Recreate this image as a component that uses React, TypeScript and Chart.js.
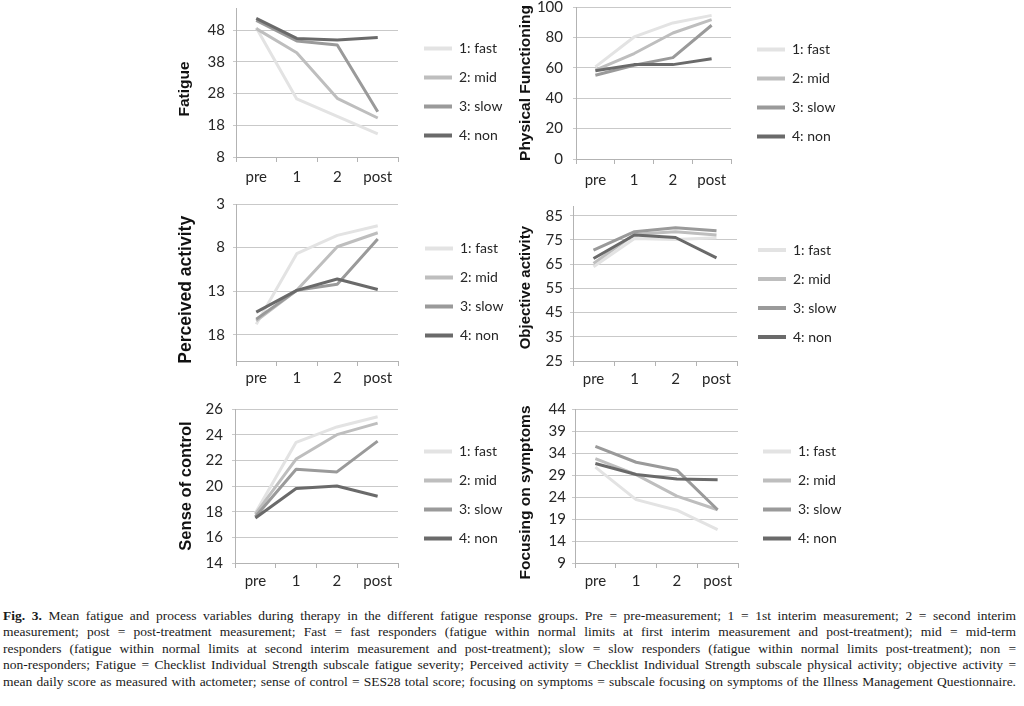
import React, { useEffect, useRef } from "react";
import { Chart, registerables } from "chart.js";

Chart.register(...registerables);

// ---------- data ----------
const categories = ["pre", "1", "2", "post"];
const groups = ["1: fast", "2: mid", "3: slow", "4: non"];

const fatigueFast = [48.8, 26.3, 20.8, 15.3];
const fatigueMid = [48.5, 40.9, 26.5, 20.3];
const fatigueSlow = [51.1, 44.6, 43.3, 22.3];
const fatigueNon = [51.7, 45.4, 44.9, 45.7];
const fatigueTicks = [8, 18, 28, 38, 48];

const physFast = [60.6, 80.3, 89.5, 94.5];
const physMid = [58.4, 69.4, 82.9, 91.7];
const physSlow = [55.1, 61.7, 66.7, 88.0];
const physNon = [58.0, 62.1, 62.1, 66.0];
const physTicks = [0, 20, 40, 60, 80, 100];

const percFast = [16.8, 8.7, 6.6, 5.5];
const percMid = [16.4, 12.9, 7.9, 6.3];
const percSlow = [16.2, 12.9, 12.2, 7.0];
const percNon = [15.4, 12.9, 11.6, 12.8];
const percTicks = [3, 8, 13, 18];

const objFast = [63.9, 75.6, 75.2, 75.9];
const objMid = [65.3, 77.3, 78.4, 77.0];
const objSlow = [70.8, 78.4, 80.0, 78.8];
const objNon = [67.3, 77.0, 76.0, 67.6];
const objTicks = [25, 35, 45, 55, 65, 75, 85];

const senseFast = [17.9, 23.4, 24.6, 25.4];
const senseMid = [17.8, 22.1, 24.0, 24.9];
const senseSlow = [17.6, 21.3, 21.1, 23.5];
const senseNon = [17.5, 19.8, 20.0, 19.2];
const senseTicks = [14, 16, 18, 20, 22, 24, 26];

const focusFast = [30.8, 23.4, 21.0, 16.6];
const focusMid = [32.7, 29.1, 24.2, 21.1];
const focusSlow = [35.5, 31.9, 30.1, 21.1];
const focusNon = [31.6, 29.1, 28.1, 27.9];
const focusTicks = [9, 14, 19, 24, 29, 34, 39, 44];

// ---------- styles ----------
const COLORS = ["#e3e3e3", "#bebebe", "#9a9a9a", "#6a6a6a"];
const GRID = "#c9c9c9";
const AXIS = "#b3b3b3";
const TEXT = "#262626";
const SANS = "Lato, 'Liberation Sans', sans-serif";
const TITLE_FONT = "'Liberation Sans', Arial, sans-serif";
const LEGEND_SIZE = 14;
const TICK_SIZE = 15;
const LEGEND_PAD = 29 - LEGEND_SIZE;
const BOX_W = 28;

type PanelDef = {
  title: string;
  titleSize: number;
  titleShift: number; // trailing spaces to nudge the rotated title downward
  series: number[][];
  ticks: number[];
  min: number;
  max: number;
  reverse?: boolean;
  L: number; R: number; T: number; B: number;
  M: number; X0: number; Xt: number;
  xpad: number; ypad: number;
};

const panels: PanelDef[] = [
  { title: "Fatigue", titleSize: 15.5, titleShift: 3, series: [fatigueFast, fatigueMid, fatigueSlow, fatigueNon], ticks: fatigueTicks, min: 8, max: 55,
    L: 236, R: 398, T: 8, B: 157, M: 92, X0: 424, Xt: 185, xpad: 6, ypad: 8 },
  { title: "Physical Functioning", titleSize: 15.5, titleShift: 0, series: [physFast, physMid, physSlow, physNon], ticks: physTicks, min: 0, max: 100,
    L: 576, R: 731, T: 7, B: 159, M: 93, X0: 757, Xt: 526, xpad: 7, ypad: 10 },
  { title: "Perceived activity", titleSize: 17.5, titleShift: 3, series: [percFast, percMid, percSlow, percNon], ticks: percTicks, min: 3, max: 21, reverse: true,
    L: 236, R: 398, T: 204, B: 361, M: 292, X0: 425, Xt: 186, xpad: 3, ypad: 8 },
  { title: "Objective activity", titleSize: 15, titleShift: 2, series: [objFast, objMid, objSlow, objNon], ticks: objTicks, min: 25, max: 89,
    L: 573, R: 737, T: 206, B: 361, M: 293.5, X0: 758, Xt: 526, xpad: 4, ypad: 7 },
  { title: "Sense of control", titleSize: 16.5, titleShift: 0, series: [senseFast, senseMid, senseSlow, senseNon], ticks: senseTicks, min: 14, max: 26,
    L: 235, R: 398, T: 409, B: 563, M: 495, X0: 424, Xt: 186, xpad: 4, ypad: 9 },
  { title: "Focusing on symptoms", titleSize: 15.5, titleShift: 3, series: [focusFast, focusMid, focusSlow, focusNon], ticks: focusTicks, min: 9, max: 44,
    L: 575, R: 738, T: 409, B: 563, M: 495, X0: 763, Xt: 526, xpad: 4, ypad: 6 },
];

function Panel({ p }: { p: PanelDef }) {
  const ref = useRef<HTMLCanvasElement | null>(null);

  const titleLH = p.titleSize * 1.2;
  const scaleLeft = p.Xt - titleLH / 2;
  const CL = Math.round(scaleLeft);
  const pl = scaleLeft - CL;
  const yw = p.L - scaleLeft;
  const dw = p.X0 - LEGEND_PAD - p.R;
  const CW = Math.ceil(p.R + dw + 125 - CL);
  const pt = 20;
  const CT = Math.floor(p.T - pt);
  const ptAdj = p.T - CT;
  const xh = 34;
  const pb = 6;
  const CH = Math.ceil(p.B + xh + pb - CT);
  const pbAdj = CT + CH - (p.B + xh);
  // legend offset from its top (empty legend title used as a spacer)
  const legendTitleH = p.M - 43.5 - p.T - LEGEND_PAD - LEGEND_SIZE / 2;

  useEffect(() => {
    if (!ref.current) return;
    const mctx = document.createElement("canvas").getContext("2d")!;
    mctx.font = `${LEGEND_SIZE}px ${SANS}`;
    const maxText = Math.max(...groups.map((g) => mctx.measureText(g).width));
    const legendW = LEGEND_PAD + BOX_W + LEGEND_SIZE / 2 + maxText + 10;
    const prAdj = CL + CW - (p.R + dw + legendW);

    const chart = new Chart(ref.current, {
      type: "line",
      data: {
        labels: categories,
        datasets: groups.map((g, i) => ({
          label: g,
          data: p.series[i],
          borderColor: COLORS[i],
          backgroundColor: COLORS[i],
          borderWidth: 3,
          pointRadius: 0,
          tension: 0,
          borderJoinStyle: "round" as const,
          yAxisID: "y",
          order: 4 - i,
        })),
      },
      options: {
        animation: false,
        responsive: false,
        maintainAspectRatio: false,
        events: [],
        layout: { padding: { left: pl, right: prAdj, top: ptAdj, bottom: pbAdj } },
        scales: {
          x: {
            type: "category",
            offset: true,
            grid: { display: true, drawOnChartArea: false, drawTicks: true, tickLength: 5, offset: true, color: AXIS },
            border: { display: true, color: AXIS, width: 1 },
            ticks: { color: TEXT, font: { family: SANS, size: TICK_SIZE }, padding: p.xpad, maxRotation: 0, autoSkip: false },
            afterFit: (s: any) => { s.height = xh; },
          },
          y: {
            type: "linear",
            position: "left",
            min: p.min,
            max: p.max,
            reverse: !!p.reverse,
            afterBuildTicks: (s: any) => { s.ticks = p.ticks.map((v) => ({ value: v })); },
            grid: { color: GRID, lineWidth: 1, drawTicks: true, tickLength: 3 },
            border: { display: true, color: AXIS, width: 1 },
            ticks: { color: TEXT, font: { family: SANS, size: TICK_SIZE }, padding: p.ypad },
            title: {
              display: true,
              text: p.title + " ".repeat(p.titleShift),
              color: "#111111",
              padding: 0,
              font: { family: TITLE_FONT, size: p.titleSize, weight: "bold" },
            },
            afterFit: (s: any) => { s.width = yw; },
          },
          pad: {
            type: "linear",
            position: "right",
            display: true,
            grid: { display: false, drawTicks: false },
            border: { display: false },
            ticks: { display: false },
            afterFit: (s: any) => { s.width = dw; },
          },
        },
        plugins: {
          tooltip: { enabled: false },
          title: { display: false },
          legend: {
            display: true,
            position: "right",
            align: "start",
            maxWidth: 300,
            title: { display: true, text: "", padding: { top: legendTitleH - 1.2, bottom: 0 }, font: { size: 1 } },
            labels: {
              boxWidth: BOX_W,
              boxHeight: 4,
              padding: LEGEND_PAD,
              color: TEXT,
              font: { family: SANS, size: LEGEND_SIZE },
              sort: (a: any, b: any) => a.datasetIndex - b.datasetIndex,
              generateLabels: (c: any) =>
                (Chart.defaults.plugins.legend.labels.generateLabels as any)(c).map((l: any) => ({ ...l, lineWidth: 0 })),
            },
          },
        },
      } as any,
    });
    return () => chart.destroy();
  }, []);

  return (
    <canvas
      ref={ref}
      width={CW}
      height={CH}
      style={{ position: "absolute", left: CL, top: CT, width: CW, height: CH }}
    />
  );
}

const captionLines: React.ReactNode[] = [
  <>
    <b>Fig. 3.</b> Mean fatigue and process variables during therapy in the different fatigue response groups. Pre = pre-measurement; 1 = 1st interim measurement; 2 = second interim
  </>,
  "measurement; post = post-treatment measurement; Fast = fast responders (fatigue within normal limits at first interim measurement and post-treatment); mid = mid-term",
  "responders (fatigue within normal limits at second interim measurement and post-treatment); slow = slow responders (fatigue within normal limits post-treatment); non =",
  "non-responders; Fatigue = Checklist Individual Strength subscale fatigue severity; Perceived activity = Checklist Individual Strength subscale physical activity; objective activity =",
  "mean daily score as measured with actometer; sense of control = SES28 total score; focusing on symptoms = subscale focusing on symptoms of the Illness Management Questionnaire.",
];

export default function App() {
  return (
    <div style={{ position: "relative", width: 1024, height: 706, overflow: "hidden", background: "#ffffff" }}>
      <style>{"body{margin:0;background:#fff}"}</style>
      {panels.map((p, i) => (
        <Panel key={i} p={p} />
      ))}
      <div
        style={{
          position: "absolute",
          left: 3,
          top: 607.5,
          width: 1013,
          fontFamily: "'Liberation Serif', 'Times New Roman', serif",
          fontSize: 13.5,
          lineHeight: "16.6px",
          color: "#1a1a1a",
        }}
      >
        {captionLines.map((l, i) => (
          <div key={i} style={{ textAlign: "justify", textAlignLast: "justify", whiteSpace: "normal" }}>
            {l}
          </div>
        ))}
      </div>
    </div>
  );
}
